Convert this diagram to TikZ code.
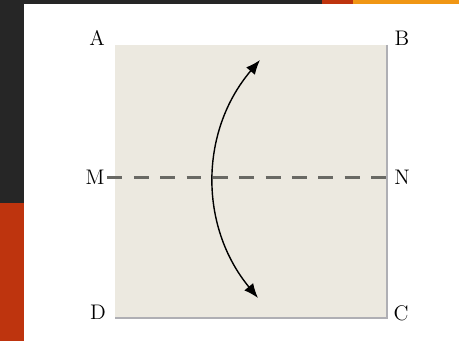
\documentclass[tikz,border=0pt]{standalone}
\usetikzlibrary{calc}
\usetikzlibrary{arrows.meta}

\definecolor{slidedark}{RGB}{38,38,38}
\definecolor{slidered}{RGB}{190,52,14}
\definecolor{slideorange}{RGB}{240,150,20}
\definecolor{paper}{RGB}{236,233,224}
\definecolor{edgegray}{RGB}{175,175,180}
\definecolor{foldgray}{RGB}{105,105,100}

\tikzset{
    corner/.style = {font = \large, inner sep = 1.5pt},
    foldline/.style = {dashed, foldgray, line width = 1.6pt, dash pattern = on 8.5pt off 6.5pt},
    turn/.style = {black, line width = 0.8pt, {Latex[length=2.9mm, width=2.3mm]}-{Latex[length=2.9mm, width=2.3mm]}}
}

\begin{document}
\begin{tikzpicture}
            \pgfmathsetmacro{\pagew}{9.18}
            \pgfmathsetmacro{\pageh}{6.82}

            % slide background
            \useasboundingbox (0, 0) rectangle (\pagew, \pageh);
            \fill [slidedark] (0, 0) rectangle (\pagew, \pageh);
            \fill [slidered] (0, 0) rectangle (0.48, 2.76);
            \fill [slidered] (6.44, 6.74) rectangle (7.06, \pageh);
            \fill [slideorange] (7.06, 6.74) rectangle (\pagew, \pageh);
            \fill [white] (0.48, 0) rectangle (\pagew, 6.74);

            \coordinate (sqA) at (2.30, 5.92);
            \coordinate (sqB) at (7.74, 5.92);
            \coordinate (sqC) at (7.74, 0.46);
            \coordinate (sqD) at (2.30, 0.46);

            \fill [paper] (sqA) rectangle (sqC);
            \draw [edgegray, line width = 0.8pt] (sqB) -- (sqC) -- (sqD);

            \node [corner] (A) at (1.94, 6.06) {A};
            \node [corner] (B) at (8.04, 6.06) {B};
            \node [corner] (C) at (8.02, 0.56) {C};
            \node [corner] (D) at (1.96, 0.58) {D};
            \node [corner] (M) at (1.90, 3.27) {M};
            \node [corner] (N) at (8.04, 3.27) {N};

            \draw [foldline] (M) -- (N);

            \coordinate (top) at (5.20, 5.62);
            \coordinate (bot) at (5.16, 0.86);
            \draw [turn] (top) to[bend right = 40] (bot);
        \end{tikzpicture}
\end{document}
